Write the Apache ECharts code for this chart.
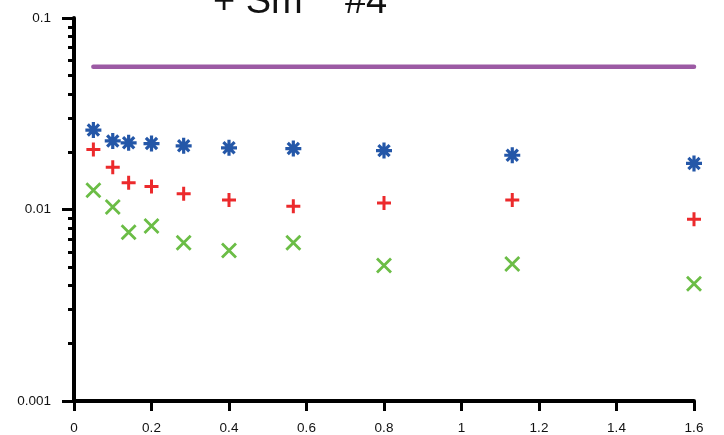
<!DOCTYPE html>
<html>
<head>
<meta charset="utf-8">
<script src="https://cdn.jsdelivr.net/npm/echarts@6/dist/echarts.min.js"></script>
<style>html,body{margin:0;padding:0;background:#fff}#c{width:724px;height:435px}</style>
</head>
<body>
<div id="c"></div>
<script>
const titleText = '+ Sm    #4';
const xValues = [0.05, 0.1, 0.141, 0.2, 0.283, 0.4, 0.566, 0.8, 1.131, 1.6];
const blueValues = [0.0260, 0.0228, 0.0223, 0.0221, 0.0215, 0.0210, 0.0208, 0.0203, 0.0192, 0.0174];
const redValues = [0.0206, 0.0166, 0.0138, 0.0132, 0.0121, 0.0112, 0.0104, 0.0108, 0.0112, 0.0089];
const greenValues = [0.0126, 0.0103, 0.0076, 0.0082, 0.0067, 0.0061, 0.0067, 0.0051, 0.0052, 0.0041];
const limitX = [0.05, 1.6];
const limitValue = 0.0556;
const yMajorTicks = [0.001, 0.01, 0.1];
const yMinorTicks = [0.002,0.003,0.004,0.005,0.006,0.007,0.008,0.009,0.02,0.03,0.04,0.05,0.06,0.07,0.08,0.09];

const font = 'Liberation Sans, Arial, Helvetica, sans-serif';
const pts = vals => xValues.map((x, i) => [x, vals[i]]);
const sym = {
  ast: 'path://M5,0L5,10M0,5L10,5M1.5,1.5L8.5,8.5M8.5,1.5L1.5,8.5',
  plus: 'path://M5,0L5,10M0,5L10,5',
  cross: 'path://M0,0L10,10M10,0L0,10'
};
function scat(name, vals, symbol, color, size, bw) {
  return {
    name, type: 'scatter', data: pts(vals), symbol, symbolSize: size,
    itemStyle: { color: 'none', borderColor: color, borderWidth: bw, opacity: 1 },
    emphasis: { disabled: true }, z: 5
  };
}
const chart = echarts.init(document.getElementById('c'), null, { renderer: 'canvas' });
chart.setOption({
  animation: false,
  backgroundColor: '#fff',
  title: {
    text: titleText, left: 213, top: -16, padding: 0,
    textStyle: { fontFamily: font, fontSize: 38, fontWeight: 'normal', color: '#111' }
  },
  grid: { left: 74, right: 30, top: 18, bottom: 32, containLabel: false },
  xAxis: {
    type: 'value', min: 0, max: 1.6, interval: 0.2,
    splitLine: { show: false },
    axisLine: { show: true, onZero: false, lineStyle: { color: '#000', width: 4 } },
    axisTick: { show: true, length: 10, lineStyle: { color: '#000', width: 3 } },
    axisLabel: { margin: 20, color: '#111', fontSize: 13.5, fontFamily: font,
      formatter: v => String(Math.round(v * 10) / 10) }
  },
  yAxis: [{
    type: 'log', logBase: 10, min: 0.001, max: 0.1,
    splitLine: { show: false },
    axisLine: { show: true, onZero: false, lineStyle: { color: '#000', width: 4 } },
    axisTick: { show: true, length: 12, customValues: yMajorTicks, lineStyle: { color: '#000', width: 3 } },
    axisLabel: { margin: 23, color: '#111', fontSize: 13.5, fontFamily: font,
      customValues: yMajorTicks, formatter: v => String(v) }
  }, {
    type: 'log', logBase: 10, min: 0.001, max: 0.1, position: 'left',
    splitLine: { show: false },
    axisLine: { show: false },
    axisTick: { show: true, length: 6, customValues: yMinorTicks, lineStyle: { color: '#000', width: 3 } },
    axisLabel: { show: false }
  }],
  series: [
    {
      name: 'limit', type: 'line', data: limitX.map(x => [x, limitValue]),
      showSymbol: false, symbol: 'none',
      lineStyle: { color: '#9c5aa4', width: 4.5, cap: 'round' }, z: 3
    },
    scat('blue', blueValues, sym.ast, '#2457a8', 16, 3.2),
    scat('red', redValues, sym.plus, '#ec2a2c', 14, 3),
    scat('green', greenValues, sym.cross, '#6bbd46', 14, 2.8)
  ]
});
</script>
</body>
</html>
